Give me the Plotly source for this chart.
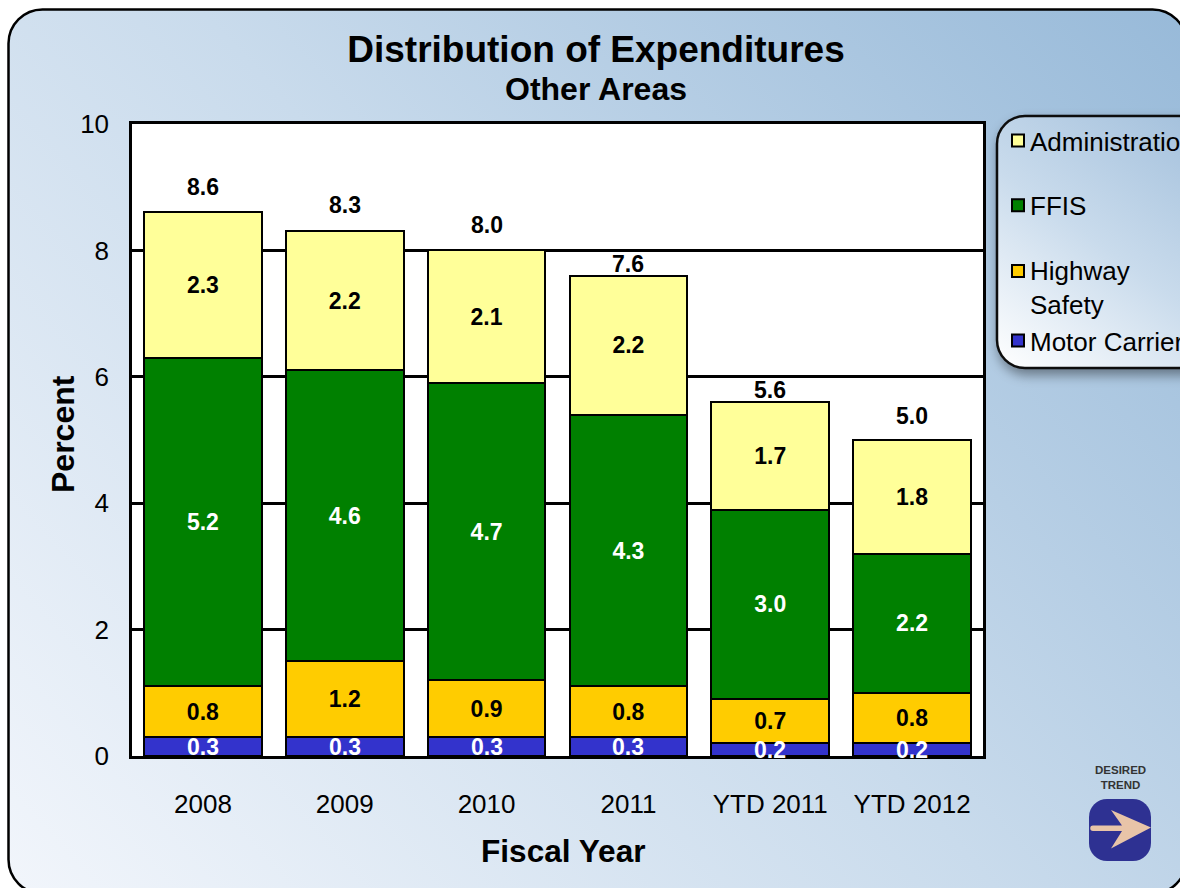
import base64
import plotly.graph_objects as go

categories = ["2008", "2009", "2010", "2011", "YTD 2011", "YTD 2012"]
motor_carrier = [0.3, 0.3, 0.3, 0.3, 0.2, 0.2]
highway_safety = [0.8, 1.2, 0.9, 0.8, 0.7, 0.8]
ffis = [5.2, 4.6, 4.7, 4.3, 3.0, 2.2]
administration = [2.3, 2.2, 2.1, 2.2, 1.7, 1.8]
totals = [8.6, 8.3, 8.0, 7.6, 5.6, 5.0]

W, H = 1180, 888
L, R, T, B = 132, 983, 124, 756
PW, PH = R - L, B - T
FONT = "Liberation Sans"


def px(x):
    return (x - L) / PW


def py(y):
    return (B - y) / PH


svg = f'''<svg xmlns="http://www.w3.org/2000/svg" width="{W}" height="{H}" viewBox="0 0 {W} {H}">
<defs>
<linearGradient id="bg" gradientUnits="userSpaceOnUse" x1="60" y1="930" x2="1130" y2="-40">
<stop offset="0" stop-color="#f1f5fb"/><stop offset="0.5" stop-color="#c9dbec"/><stop offset="1" stop-color="#98bad9"/>
</linearGradient>
<linearGradient id="lg" gradientUnits="userSpaceOnUse" x1="1000" y1="370" x2="1190" y2="110">
<stop offset="0" stop-color="#ffffff"/><stop offset="0.5" stop-color="#c9dbec"/><stop offset="1" stop-color="#a3c0dc"/>
</linearGradient>
<filter id="sh" x="-20%" y="-20%" width="140%" height="140%"><feDropShadow dx="2" dy="6" stdDeviation="6" flood-color="#000" flood-opacity="0.4"/></filter>
</defs>
<rect width="{W}" height="{H}" fill="#ffffff"/>
<rect x="8.5" y="9.5" width="1178" height="884" rx="34" ry="34" fill="url(#bg)" stroke="#000" stroke-width="2.5"/>
<rect x="997" y="116" width="230" height="252" rx="28" ry="28" fill="url(#lg)" stroke="#111" stroke-width="2.5" filter="url(#sh)"/>
<rect x="1089" y="799" width="62" height="62" rx="18" ry="18" fill="#2e3192"/>
<path d="M1093 825.5H1122L1111 810L1151 827.5L1111 848.5L1122 831H1093A2.7 2.7 0 0 1 1093 825.5Z" fill="#e8c4a8"/>
</svg>'''
uri = "data:image/svg+xml;base64," + base64.b64encode(svg.encode()).decode()

series = [
    ("Motor Carrier", motor_carrier, "#3333CC", "white", "low", 4, False),
    ("Highway<br>Safety", highway_safety, "#FFCC00", "black", "low", 3, True),
    ("FFIS", ffis, "#008000", "white", "ffis", 2, True),
    ("Administration", administration, "#FFFF99", "black", "adm", 1, True),
]

fig = go.Figure()
for name, vals, color, tcolor, group, rank, inline in series:
    fig.add_trace(go.Bar(
        x=categories, y=vals, name=name, legendgroup=group, legendrank=rank,
        marker=dict(color=color, line=dict(color="black", width=2)),
        text=[f"{v:.1f}" for v in vals] if inline else None,
        textposition="inside", insidetextanchor="middle", textangle=0,
        constraintext="none", cliponaxis=False,
        textfont=dict(family=FONT, size=23, color=tcolor, weight="bold"),
        hoverinfo="skip",
    ))

total_shift = [25, 26, 25, 12, 12, 24]
annotations = [
    dict(x=i, y=t, xref="x", yref="y", text=f"<b>{t:.1f}</b>", showarrow=False,
         yanchor="middle", yshift=s, font=dict(family=FONT, size=23, color="black"))
    for i, (t, s) in enumerate(zip(totals, total_shift))
]
annotations += [
    dict(x=i, y=v / 2, xref="x", yref="y", text=f"<b>{v:.1f}</b>", showarrow=False,
         yanchor="middle", font=dict(family=FONT, size=23, color="white"))
    for i, v in enumerate(motor_carrier)
]
annotations += [
    dict(x=px(596), y=py(89), xref="paper", yref="paper", text="<b>Other Areas</b>",
         showarrow=False, yanchor="middle", xanchor="center",
         font=dict(family=FONT, size=32, color="black")),
    dict(x=px(1120), y=py(777), xref="paper", yref="paper", text="<b>DESIRED<br>TREND</b>",
         showarrow=False, yanchor="middle", xanchor="center",
         font=dict(family=FONT, size=11.5, color="#333333")),
    dict(x=px(63), y=py(434), xref="paper", yref="paper", text="<b>Percent</b>", textangle=-90,
         showarrow=False, yanchor="middle", xanchor="center",
         font=dict(family=FONT, size=32, color="black")),
    dict(x=px(563), y=py(851), xref="paper", yref="paper", text="<b>Fiscal Year</b>",
         showarrow=False, yanchor="middle", xanchor="center",
         font=dict(family=FONT, size=31.6, color="black")),
]

fig.update_layout(
    width=W, height=H, autosize=False,
    margin=dict(l=L, r=W - R, t=T, b=H - B, pad=0, autoexpand=False),
    barmode="stack", bargap=0.17,
    paper_bgcolor="white", plot_bgcolor="white",
    font=dict(family=FONT, color="black"),
    title=dict(text="<b>Distribution of Expenditures</b>", x=px(596), xanchor="center",
               xref="paper", y=1 - 49 / H, yanchor="middle",
               font=dict(family=FONT, size=37, color="black")),
    xaxis=dict(range=[-0.5, 5.5], type="category", showline=True, mirror=True, linecolor="black",
               linewidth=2.5, showgrid=False, ticks="outside", ticklen=23,
               tickcolor="rgba(0,0,0,0)", tickfont=dict(family=FONT, size=26, color="black")),
    yaxis=dict(range=[0, 10], dtick=2, showline=True, mirror=True, linecolor="black",
               linewidth=2.5, showgrid=True, gridcolor="black", gridwidth=2.5, zeroline=False,
               ticks="outside", ticklen=15, tickcolor="rgba(0,0,0,0)",
               tickfont=dict(family=FONT, size=26, color="black")),
    legend=dict(x=px(998), y=py(117), xanchor="left", yanchor="top",
                bgcolor="rgba(0,0,0,0)", borderwidth=0, traceorder="grouped",
                tracegroupgap=28, indentation=-8,
                font=dict(family=FONT, size=26, color="black")),
    images=[dict(source=uri, xref="paper", yref="paper", x=-L / PW, y=1 + T / PH,
                 sizex=W / PW, sizey=H / PH, xanchor="left", yanchor="top",
                 sizing="stretch", layer="below")],
    shapes=[dict(type="rect", xref="paper", yref="paper", x0=0, x1=1, y0=0, y1=1,
                 fillcolor="white", line_width=0, layer="below")],
    annotations=annotations,
    showlegend=True,
)

post = """
document.documentElement.style.overflow='hidden';
document.body.style.margin='0';
document.querySelectorAll('.legend .traces').forEach(function(t){
  var two = t.querySelectorAll('.legendtext tspan.line').length > 1;
  var s = t.querySelector('.legendsymbols');
  if (s) { s.setAttribute('transform', 'translate(8,' + (two ? -16 : 0) + ')'); }
});
"""
fig.write_html("out.html", post_script=post, config={"displayModeBar": False})
